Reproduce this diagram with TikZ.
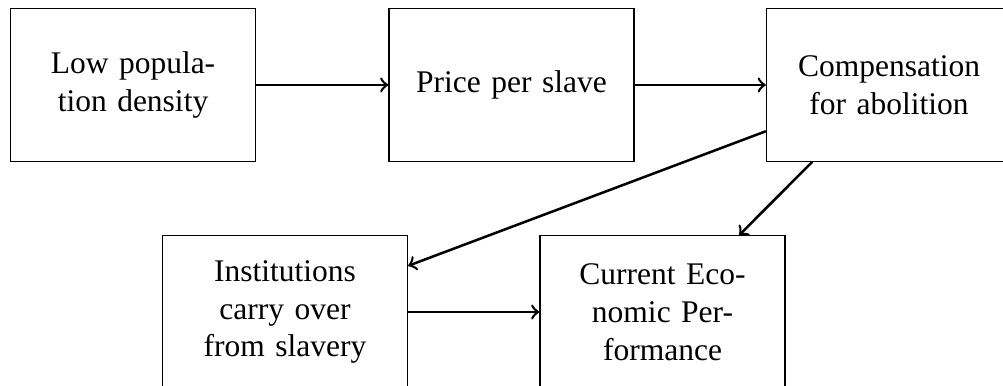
\documentclass[tikz,border=0pt]{standalone}
\usepackage{fontspec}
\setmainfont{Liberation Serif}
\tikzset{
factor/.style={draw, text width=2.5cm, align=center, minimum height=1.7cm},
link/.style={->, thick}
}
\begin{document}
\begin{tikzpicture}
  \useasboundingbox (-1.484, 0.948) rectangle (9.707, -3.358);
  \node[factor] (density) at (0,0) {Low population density};
  \node[factor] (price) at (4.223,0) {Price per slave};
  \node[factor] (compensation) at (8.435,0) {Compensation for abolition};
  \node[factor] (institutions) at (1.696,-2.533) {Institutions carry over from slavery};
  \node[factor] (performance) at (5.908,-2.533) {Current Economic Performance};
  \draw[link] (density) -- (price);
  \draw[link] (price) -- (compensation);
  \draw[link] (compensation) -- (institutions);
  \draw[link] (compensation) -- (performance);
  \draw[link] (institutions) -- (performance);
\end{tikzpicture}
\end{document}
